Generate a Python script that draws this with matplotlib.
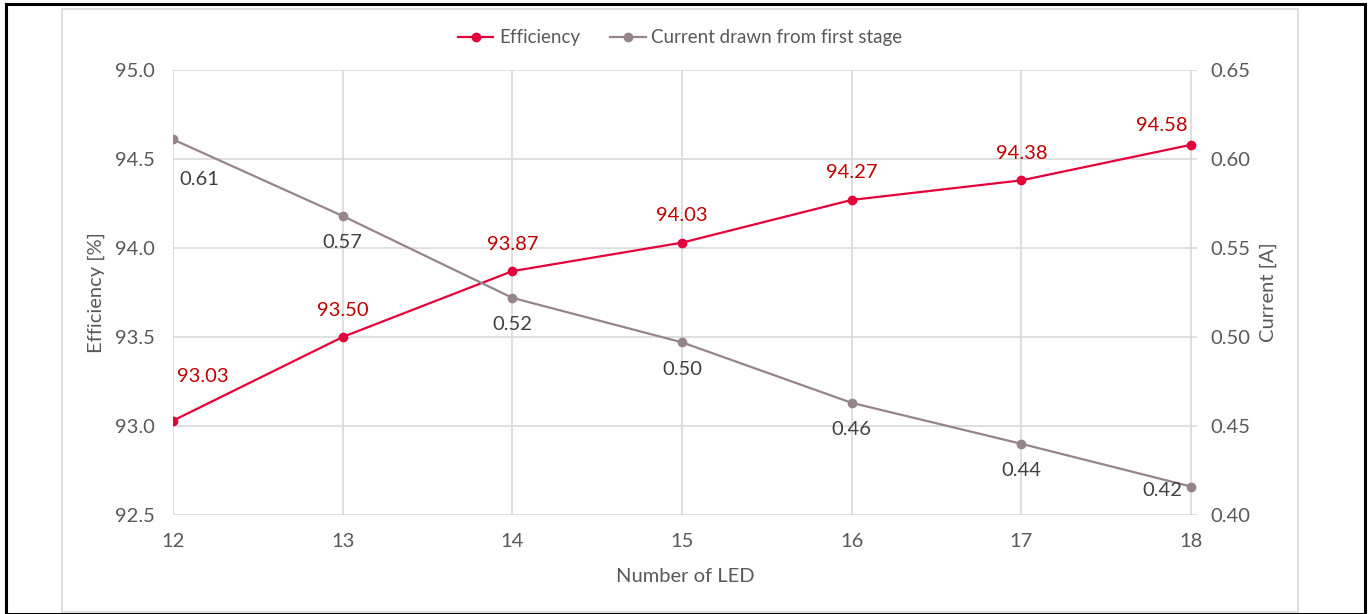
import matplotlib
matplotlib.use("Agg")
import matplotlib.pyplot as plt
from matplotlib.patches import Rectangle

plt.rcParams['font.family'] = ['Lato', 'DejaVu Sans']

# data
leds = [12, 13, 14, 15, 16, 17, 18]
efficiency = [93.03, 93.50, 93.87, 94.03, 94.27, 94.38, 94.58]
current = [0.611, 0.568, 0.522, 0.497, 0.463, 0.440, 0.416]

eff_ticks = [92.5, 93.0, 93.5, 94.0, 94.5, 95.0]
cur_ticks = [0.40, 0.45, 0.50, 0.55, 0.60, 0.65]

RED = '#E4003A'
RED_TXT = '#C00000'
GREY = '#968588'
TICK = '#595959'
LBL = '#404040'
GRID = '#D9D9D9'
FS = 14.5

W, H = 1370, 614
fig = plt.figure(figsize=(W / 100, H / 100), dpi=100)

# outer frames
fig.patches.append(Rectangle((6 / W, 0), 1359 / W, 1 - 4 / H, transform=fig.transFigure,
                             fill=False, edgecolor='black', linewidth=2.2))
fig.patches.append(Rectangle((62 / W, 2 / H), 1236 / W, 603 / H, transform=fig.transFigure,
                             fill=False, edgecolor=GRID, linewidth=1.2))

ax = fig.add_axes([173 / W, 1 - 515 / H, 1024 / W, 445 / H])
ax2 = ax.twinx()

ax.plot(leds, efficiency, color=RED, lw=1.6, marker='o', ms=6, label='Efficiency', zorder=3)
ax2.plot(leds, current, color=GREY, lw=1.6, marker='o', ms=6,
         label='Current drawn from first stage', zorder=3)

ax.set_xlim(12, 18.035)
ax.set_ylim(92.5, 95.0)
ax2.set_ylim(0.40, 0.65)
ax.set_xticks(leds)
ax.set_yticks(eff_ticks)
ax2.set_yticks(cur_ticks)
ax.yaxis.set_major_formatter(matplotlib.ticker.FormatStrFormatter('%.1f'))
ax2.yaxis.set_major_formatter(matplotlib.ticker.FormatStrFormatter('%.2f'))

ax.grid(True, color=GRID, lw=1.2)
ax.set_axisbelow(True)
for a in (ax, ax2):
    for s in a.spines.values():
        s.set_visible(False)
    a.tick_params(length=0, labelsize=FS, labelcolor=TICK)
ax.tick_params(axis='y', pad=13)
ax.tick_params(axis='x', pad=13)
ax2.tick_params(axis='y', pad=9.5)

ax.set_xlabel('Number of LED', fontsize=FS, color=TICK, labelpad=13)
ax.set_ylabel('Efficiency [%]', fontsize=FS, color=TICK)
ax2.set_ylabel('Current [A]', fontsize=FS, color=TICK)
ax.yaxis.set_label_coords(-0.0664, 0.5)
ax2.yaxis.set_label_coords(1.0615, 0.5)

# data labels
for i, (x, y) in enumerate(zip(leds, efficiency)):
    dx, dy = 0, 27
    if i == 0:
        dx, dy = 30, 44
    elif i == len(leds) - 1:
        dx, dy = -29, 19
    ax.annotate(f'{y:.2f}', (x, y), xytext=(dx, dy), textcoords='offset pixels',
                ha='center', va='center', fontsize=FS, color=RED_TXT)
for i, (x, y) in enumerate(zip(leds, current)):
    dx, dy = 0, -27
    if i == 0:
        dx, dy = 26, -40
    elif i == len(leds) - 1:
        dx, dy = -29, -4
    ax2.annotate(f'{y:.2f}', (x, y), xytext=(dx, dy), textcoords='offset pixels',
                 ha='center', va='center', fontsize=FS, color=LBL, zorder=4)

h1, l1 = ax.get_legend_handles_labels()
h2, l2 = ax2.get_legend_handles_labels()
fig.legend(h1 + h2, l1 + l2, loc='center', bbox_to_anchor=(680 / W, 1 - 38 / H), ncol=2,
           frameon=False, fontsize=13.5, labelcolor=TICK, handlelength=1.9,
           handletextpad=0.3, columnspacing=1.6)

fig.savefig('out.png', dpi=100)
